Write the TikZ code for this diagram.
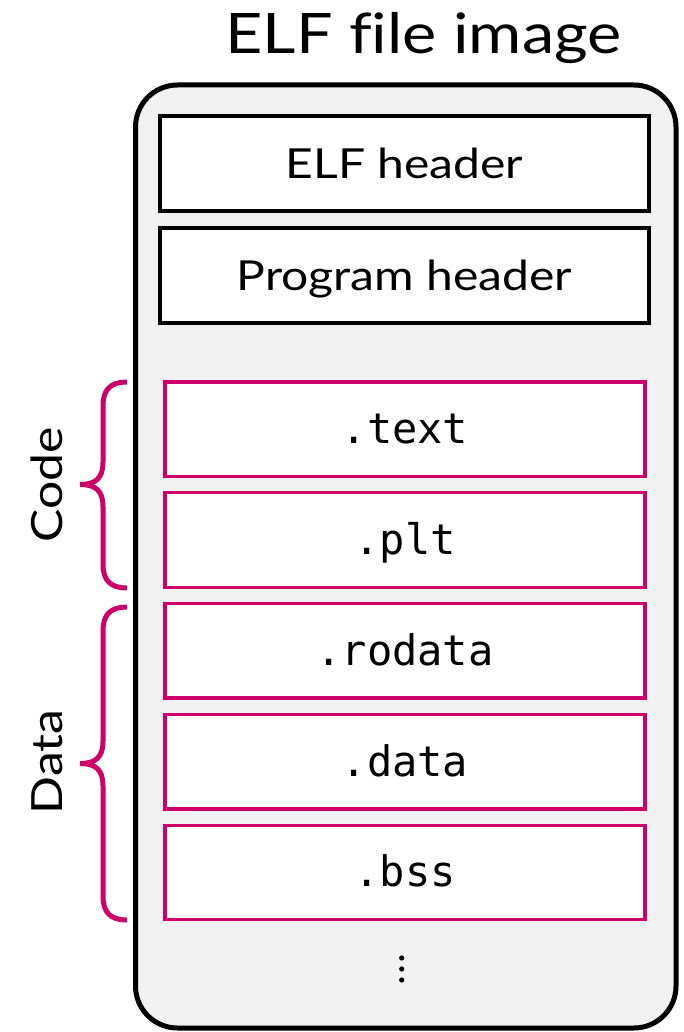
\documentclass[tikz,border=0pt]{standalone}
\usepackage{fontspec}
\setmainfont{Lato}
\newfontfamily\labelfont[FakeStretch=1.16]{Lato}
\newfontfamily\codefont{DejaVu Sans Mono}
\definecolor{secmag}{RGB}{204,0,102}
\definecolor{panel}{RGB}{241,241,241}
\tikzset{
  hdrbox/.style={draw=black, line width=4pt, fill=white, minimum width=489pt, minimum height=95pt, inner sep=0pt},
  secbox/.style={draw=secmag, line width=3.3pt, fill=white, minimum width=480pt, minimum height=94.5pt, inner sep=0pt},
  hdrtext/.style={font=\labelfont\fontsize{41.4}{44}\selectfont, anchor=base},
  sectext/.style={font=\codefont\fontsize{42}{44}\selectfont, anchor=base},
  sidetext/.style={font=\labelfont\fontsize{43}{46}\selectfont, anchor=base, rotate=90},
  bracepath/.style={draw=secmag, line width=5pt, line cap=butt},
}
\begin{document}
\begin{tikzpicture}[x=1pt, y=-1pt]
  \useasboundingbox (0,0) rectangle (684,1032);

  % title (f and i kept apart, no ligature)
  \node[font=\labelfont\fontsize{55.8}{60}\selectfont, anchor=base] (title) at (423.5,54) {ELF f\kern0pt ile image};

  % outer container
  \draw[line width=5pt, fill=panel, rounded corners=42pt] (135.5,85) rectangle (676,1028);

  % headers
  \node[hdrbox] (elfhdr) at (404.5,163.5) {};
  \node[hdrtext] (elfhdrlbl) at (404.5,178.3) {ELF header};
  \node[hdrbox] (proghdr) at (404.5,275.7) {};
  \node[hdrtext] (proghdrlbl) at (404.5,290.5) {Program header};

  % sections
  \foreach \nm/\lbl/\i in {text/.text/0, plt/.plt/1, rodata/.rodata/2, data/.data/3, bss/.bss/4} {
    \node[secbox] (\nm) at (405,{429.2+110.8*\i}) {};
    \node[sectext] (\nm lbl) at (405,{443.7+110.8*\i}) {\lbl};
  }

  % continuation dots
  \foreach \k in {0,1,2} \fill (401.7,{958+11*\k}) circle (2.6pt);

  % braces
  \draw[bracepath] (127,382) .. controls (110,382) and (103,390) .. (103,406)
    -- (103,462) .. controls (103,478) and (96,484.5) .. (80,484.5)
    .. controls (96,484.5) and (103,491) .. (103,507)
    -- (103,564) .. controls (103,580) and (110,588) .. (127,588);
  \draw[bracepath] (127,607) .. controls (110,607) and (103,615) .. (103,631)
    -- (103,741) .. controls (103,757) and (96,763.5) .. (80,763.5)
    .. controls (96,763.5) and (103,770) .. (103,786)
    -- (103,896) .. controls (103,912) and (110,920) .. (127,920);

  \node[sidetext] (codelbl) at (62,485) {Code};
  \node[sidetext] (datalbl) at (62,762) {Data};
\end{tikzpicture}
\end{document}
